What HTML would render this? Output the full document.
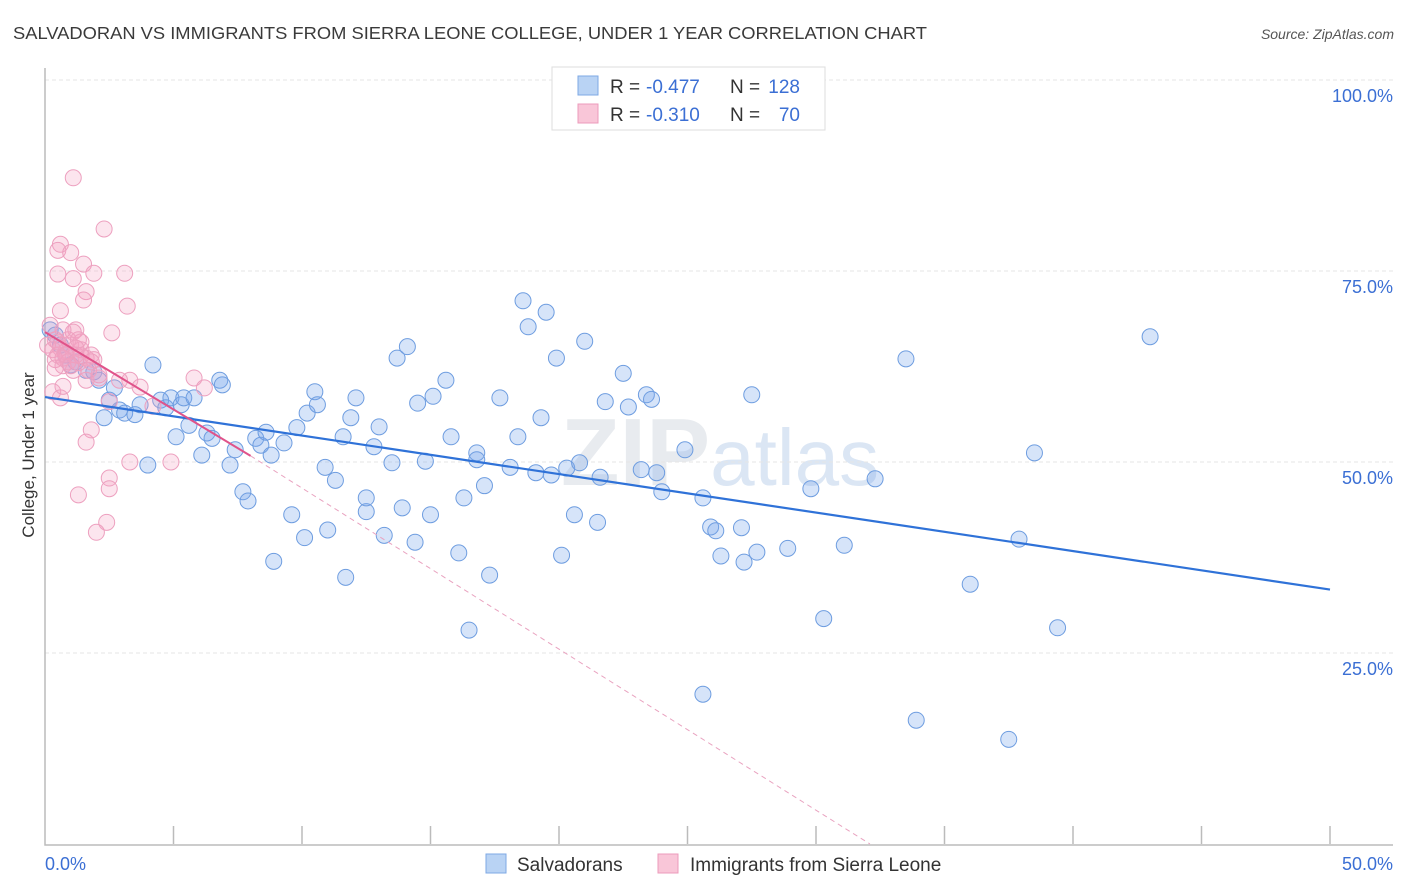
<!DOCTYPE html>
<html><head><meta charset="utf-8"><style>
body{margin:0;background:#fff;font-family:"Liberation Sans",sans-serif}
svg{display:block}
</style></head><body>
<svg id="c" width="1406" height="892" xmlns="http://www.w3.org/2000/svg">
<text x="13" y="39" font-size="17.6" fill="#3a3a3a" textLength="914" lengthAdjust="spacingAndGlyphs">SALVADORAN VS IMMIGRANTS FROM SIERRA LEONE COLLEGE, UNDER 1 YEAR CORRELATION CHART</text>
<text x="1394" y="39" font-size="14" fill="#555" font-style="italic" text-anchor="end">Source: ZipAtlas.com</text>
<text x="720" y="485" font-size="96" fill="#e8ebef" text-anchor="middle" font-weight="bold">ZIP<tspan font-weight="normal" fill="#dbe6f4" font-size="80">atlas</tspan></text>
<g id="grid"></g>
<g id="marks"></g>
<text transform="translate(34,455) rotate(-90)" font-size="17" fill="#333" text-anchor="middle">College, Under 1 year</text>
<g>
<rect x="552" y="67" width="273" height="63" fill="#fff" stroke="#ddd"/>
<rect x="578" y="76" width="20" height="19" fill="#b9d3f4" stroke="#7ea8e4"/>
<rect x="578" y="104" width="20" height="19" fill="#f9c6d8" stroke="#ec9bbb"/>
<text x="610" y="93" font-size="19" fill="#333">R =</text>
<text x="646" y="93" font-size="19" fill="#3b6fd4">-0.477</text>
<text x="730" y="93" font-size="19" fill="#333">N =</text>
<text x="800" y="93" font-size="19" fill="#3b6fd4" text-anchor="end">128</text>
<text x="610" y="121" font-size="19" fill="#333">R =</text>
<text x="646" y="121" font-size="19" fill="#3b6fd4">-0.310</text>
<text x="730" y="121" font-size="19" fill="#333">N =</text>
<text x="800" y="121" font-size="19" fill="#3b6fd4" text-anchor="end">70</text>
</g>
<g>
<rect x="486" y="854" width="20" height="19" fill="#b9d3f4" stroke="#7ea8e4"/>
<text x="517" y="871" font-size="19" fill="#333">Salvadorans</text>
<rect x="658" y="854" width="20" height="19" fill="#f9c6d8" stroke="#ec9bbb"/>
<text x="690" y="871" font-size="19" fill="#333">Immigrants from Sierra Leone</text>
</g>
</svg>
<script>
const xTicks=[0,5,10,15,20,25,30,35,40,45,50];
const yTicks=[25,50,75,100];
const yTickLabels=["25.0%","50.0%","75.0%","100.0%"];
const blueX=[0.2,0.4,0.6,0.8,1.0,1.2,1.6,1.9,2.1,2.3,2.5,2.7,2.9,3.1,3.5,3.7,4.0,4.2,4.5,4.7,4.9,5.3,5.4,5.6,5.8,5.1,6.1,6.3,6.5,6.8,6.9,7.2,7.4,7.7,7.9,8.2,8.4,8.6,8.8,8.9,9.3,9.6,9.8,10.1,10.2,10.5,10.6,10.9,11.0,11.3,11.6,11.7,11.9,12.1,12.5,12.5,12.8,13.0,13.2,13.5,13.7,13.9,14.1,14.4,14.5,14.8,15.0,15.1,15.6,15.8,16.1,16.3,16.5,16.8,16.8,17.1,17.3,17.7,18.1,18.4,18.6,18.8,19.3,19.5,19.1,19.7,19.9,20.1,20.3,20.6,20.8,21.0,21.5,21.6,21.8,22.5,22.7,23.2,23.4,23.6,23.8,24.0,24.9,25.6,25.6,25.9,26.1,26.3,27.1,27.2,27.7,27.5,28.9,29.8,30.3,31.1,32.3,33.5,33.9,36.0,37.5,37.9,38.5,39.4,43.0];
const blueY=[67.3,66.6,65.3,64.0,62.7,63.1,62.0,61.8,60.7,55.8,58.1,59.7,56.8,56.4,56.2,57.5,49.6,62.7,58.1,57.1,58.4,57.5,58.4,54.8,58.4,53.3,50.9,53.8,53.1,60.7,60.1,49.6,51.6,46.1,44.9,53.1,52.2,53.9,50.9,37.0,52.5,43.1,54.5,40.1,56.4,59.2,57.5,49.3,41.1,47.6,53.3,34.9,55.8,58.4,43.5,45.3,52.0,54.6,40.4,49.9,63.6,44.0,65.1,39.5,57.7,50.1,43.1,58.6,60.7,53.3,38.1,45.3,28.0,51.2,50.3,46.9,35.2,58.4,49.3,53.3,71.1,67.7,55.8,69.6,48.6,48.3,63.6,37.8,49.2,43.1,49.9,65.8,42.1,48.0,57.9,61.6,57.2,49.0,58.8,58.2,48.6,46.1,51.6,19.6,45.3,41.5,41.0,37.7,41.4,36.9,38.2,58.8,38.7,46.5,29.5,39.1,47.8,63.5,16.2,34.0,13.7,39.9,51.2,28.3,66.4];
const pinkX=[1.1,2.3,0.6,0.5,1.0,1.5,3.1,1.9,0.5,1.1,1.6,1.5,3.2,0.6,2.6,1.2,0.2,0.4,0.6,0.8,1.0,1.2,1.4,1.6,1.8,1.9,0.4,0.7,0.9,1.3,1.7,2.1,0.3,0.6,0.7,0.8,1.1,1.4,1.6,1.8,2.1,2.5,3.3,3.7,4.2,5.8,6.2,1.8,1.6,3.3,4.9,2.5,2.5,1.3,2.4,2.0,0.1,0.3,0.5,0.7,0.9,1.1,1.3,0.4,0.5,0.7,1.0,1.2,1.4,2.9];
const pinkY=[87.2,80.5,78.5,77.7,77.4,75.9,74.7,74.7,74.6,74.0,72.3,71.2,70.4,69.8,66.9,67.3,67.9,66.0,64.9,64.4,65.3,64.0,64.7,63.6,64.0,63.4,63.4,62.6,66.0,63.0,62.0,61.0,59.2,58.4,59.9,64.1,67.0,65.7,60.7,63.1,61.4,57.9,60.7,59.8,57.3,61.0,59.7,54.2,52.6,50.0,50.0,47.9,46.5,45.7,42.1,40.8,65.3,64.7,64.0,67.3,63.1,62.0,66.0,62.3,65.7,63.6,62.6,64.9,63.9,60.7];
const blueLineX=[0,50], blueLineY=[58.5,33.3];
const pinkLineX=[0,8.0], pinkLineY=[67.0,50.8];
const pinkDashX=[8.0,32.1], pinkDashY=[50.8,0];

const X0=45,X1=1330,Y0=844,Y100=80;
const sx=v=>X0+(v/50)*(X1-X0);
const sy=v=>Y0-(v/100)*(Y0-Y100);
const NS="http://www.w3.org/2000/svg";
function mk(parent,tag,attrs){const e=document.createElementNS(NS,tag);for(const k in attrs)e.setAttribute(k,attrs[k]);parent.appendChild(e);return e;}
const grid=document.getElementById('grid'),marks=document.getElementById('marks');
yTicks.forEach((t,i)=>{
 const g=mk(grid,'line',{x1:X0,x2:1393,y1:sy(t),y2:sy(t),stroke:'#e6e6e6','stroke-dasharray':'4,3'});
 
 
 const l=mk(grid,'text',{x:1393,y:sy(t)+22,'font-size':18,fill:'#3b6fd4','text-anchor':'end'});
 l.textContent=yTickLabels[i];
 
 
});
const ax=mk(grid,'path',{d:`M${X0},68V${Y0+1}H1393`,stroke:'#bbb',fill:'none','stroke-width':1.5});


xTicks.forEach(t=>{if(t===0)return;
 const k=mk(grid,'line',{x1:sx(t),x2:sx(t),y1:826,y2:Y0,stroke:'#bbb','stroke-width':1.5});
 
 
});
const xl0=mk(grid,'text',{x:45,y:870,'font-size':18,fill:'#3b6fd4'});xl0.textContent='0.0%';


const xl1=mk(grid,'text',{x:1393,y:870,'font-size':18,fill:'#3b6fd4','text-anchor':'end'});xl1.textContent='50.0%';


blueX.forEach((v,i)=>{
 const c=mk(marks,'circle',{cx:sx(v),cy:sy(blueY[i]),r:8,fill:'rgba(120,165,235,0.3)',stroke:'#6e9de0','stroke-width':1});
 
 
});
pinkX.forEach((v,i)=>{
 const c=mk(marks,'circle',{cx:sx(v),cy:sy(pinkY[i]),r:8,fill:'rgba(245,160,195,0.28)',stroke:'#eda0bf','stroke-width':1});
 
 
});
const bl=mk(marks,'line',{x1:sx(blueLineX[0]),y1:sy(blueLineY[0]),x2:sx(blueLineX[1]),y2:sy(blueLineY[1]),stroke:'#2f72d8','stroke-width':2.2});


const pl=mk(marks,'line',{x1:sx(pinkLineX[0]),y1:sy(pinkLineY[0]),x2:sx(pinkLineX[1]),y2:sy(pinkLineY[1]),stroke:'#e0538a','stroke-width':2});


const pd=mk(marks,'line',{x1:sx(pinkDashX[0]),y1:sy(pinkDashY[0]),x2:sx(pinkDashX[1]),y2:sy(pinkDashY[1]),stroke:'#e9a3c0','stroke-width':1,'stroke-dasharray':'5,4'});


</script>
</body></html>
